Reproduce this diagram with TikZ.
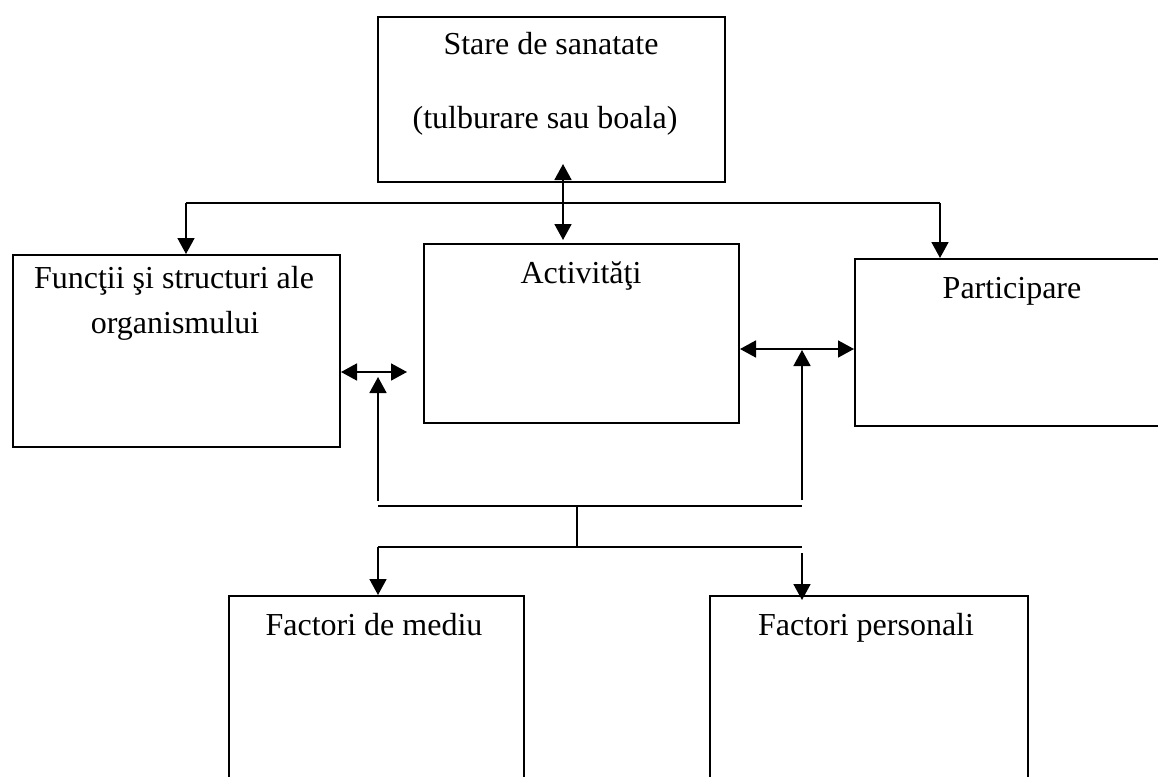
\documentclass[tikz,border=0pt]{standalone}
\usepackage{fontspec}
\setmainfont{Liberation Serif}
\usetikzlibrary{arrows.meta}
\begin{document}
\begin{tikzpicture}[x=1pt,y=-1pt,
  box/.style={draw, line width=2pt, rectangle, anchor=north west, inner sep=0pt},
  txt/.style={anchor=base, inner sep=0pt, font=\fontsize{32}{38}\selectfont},
  ln/.style={line width=1.7pt},
  arr/.style={ln, -{Triangle[length=16pt,width=17pt]}},
  darr/.style={ln, {Triangle[length=16pt,width=17pt]}-{Triangle[length=16pt,width=17pt]}}]
\useasboundingbox (0,0) rectangle (1158,776);
\clip (0,0) rectangle (1158,776);
% boxes
\node[box, minimum width=347pt, minimum height=165pt] (stare) at (377,16) {};
\node[box, minimum width=327pt, minimum height=192pt] (func) at (12,254) {};
\node[box, minimum width=315pt, minimum height=179pt] (activ) at (423,243) {};
\node[box, minimum width=320pt, minimum height=167pt] (part) at (854,258) {};
\node[box, minimum width=295pt, minimum height=210pt] (mediu) at (228,595) {};
\node[box, minimum width=318pt, minimum height=210pt] (pers) at (709,595) {};
% texts
\node[txt] (t1) at (551,55) {Stare de sanatate};
\node[txt] (t2) at (545,128) {(tulburare sau boala)};
\node[txt] (t3) at (174,288) {Funcţii şi structuri ale};
\node[txt] (t4) at (175,333) {organismului};
\node[txt] (t5) at (581,283) {Activităţi};
\node[txt] (t6) at (1012,298) {Participare};
\node[txt] (t7) at (374,635) {Factori de mediu};
\node[txt] (t8) at (866,635) {Factori personali};
% coordinates
\coordinate (sa) at (563,164);
\coordinate (sb) at (563,240);
\coordinate (hl) at (186,203);
\coordinate (hr) at (940,203);
\coordinate (la) at (407,372);
\coordinate (lu0) at (378,501);
\coordinate (lu1) at (378,377);
\coordinate (ra) at (802,349);
\coordinate (ru0) at (802,500);
\coordinate (ru1) at (802,350);
\coordinate (b1l) at (378,506);
\coordinate (b1r) at (802,506);
\coordinate (stem) at (577,506);
\coordinate (stem2) at (577,547);
\coordinate (b2l) at (378,547);
\coordinate (b2r) at (802,547);
\coordinate (dr0) at (802,553);
\coordinate (dr1) at (802,600);
% connectors
\draw[darr] (sa) -- (sb);
\draw[arr] (hl) -- (hl |- func.north);
\draw[ln] (hl) -- (hr);
\draw[arr] (hr) -- (hr |- part.north);
\draw[darr] (func.east |- la) -- (la);
\draw[arr] (lu0) -- (lu1);
\draw[darr] (activ.east |- ra) -- (part.west |- ra);
\draw[arr] (ru0) -- (ru1);
\draw[ln] (b1l) -- (b1r);
\draw[ln] (stem) -- (stem2);
\draw[ln] (b2l) -- (b2r);
\draw[arr] (b2l) -- (b2l |- mediu.north);
\draw[arr] (dr0) -- (dr1);
\end{tikzpicture}
\end{document}
